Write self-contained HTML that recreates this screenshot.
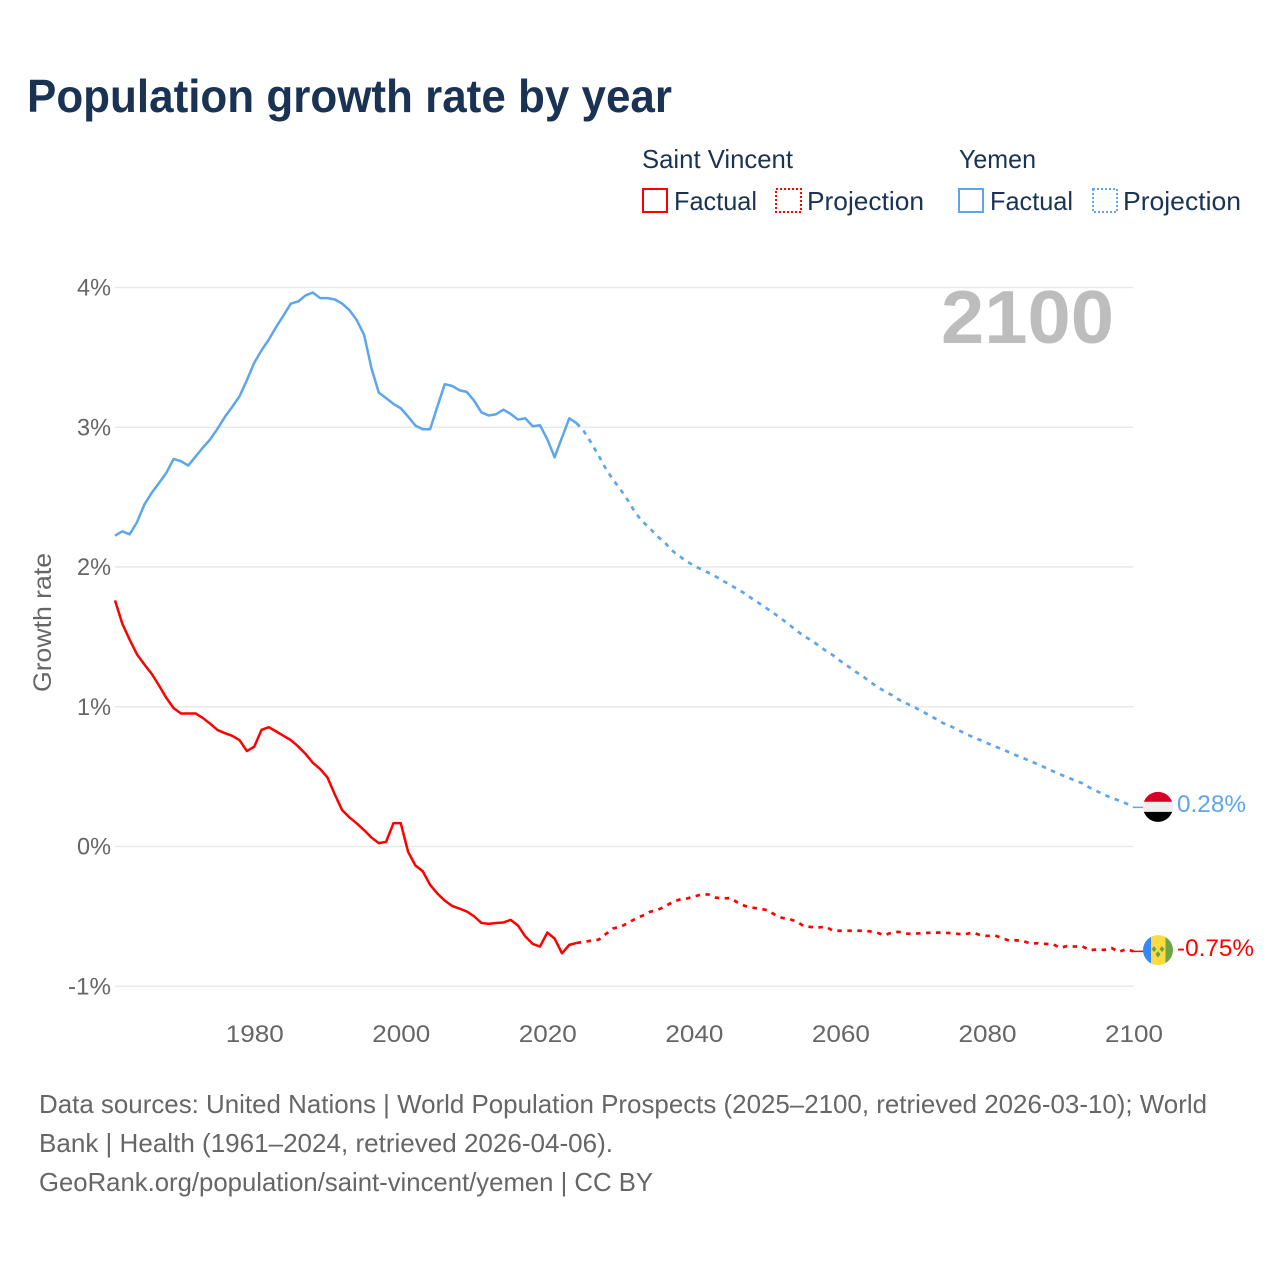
<!DOCTYPE html>
<html lang="en">
<head>
<meta charset="utf-8">
<title>Population growth rate by year</title>
<style>
html,body{margin:0;padding:0;background:#fff;width:1280px;height:1280px;overflow:hidden}
svg{display:block;font-family:"Liberation Sans",sans-serif}
</style>
</head>
<body>
<svg id="chart" xmlns="http://www.w3.org/2000/svg" width="1280" height="1280" viewBox="0 0 1280 1280">
  <defs>
    <clipPath id="flag-clip"><circle cx="0" cy="0" r="15"></circle></clipPath>
  </defs>
  <rect x="0" y="0" width="1280" height="1280" fill="#ffffff"></rect>
  <text x="27" y="112" font-size="46" font-weight="700" fill="#1a3354" textLength="645" lengthAdjust="spacingAndGlyphs">Population growth rate by year</text>

  <g font-size="26" fill="#1a3354">
    <text x="642" y="168" textLength="151" lengthAdjust="spacingAndGlyphs">Saint Vincent</text>
    <text x="959" y="168" textLength="77" lengthAdjust="spacingAndGlyphs">Yemen</text>
    <rect x="643" y="189" width="24" height="23" fill="none" stroke="#ff0000" stroke-width="2"></rect>
    <text x="674" y="210" textLength="83" lengthAdjust="spacingAndGlyphs">Factual</text>
    <rect x="776" y="189" width="25" height="23" fill="none" stroke="#ff0000" stroke-width="2" stroke-dasharray="2 2"></rect>
    <text x="807" y="210" textLength="117" lengthAdjust="spacingAndGlyphs">Projection</text>
    <rect x="959" y="189" width="24" height="23" fill="none" stroke="#5da5ec" stroke-width="2"></rect>
    <text x="990" y="210" textLength="83" lengthAdjust="spacingAndGlyphs">Factual</text>
    <rect x="1093" y="189" width="24" height="23" fill="none" stroke="#5da5ec" stroke-width="2" stroke-dasharray="2 2"></rect>
    <text x="1123" y="210" textLength="118" lengthAdjust="spacingAndGlyphs">Projection</text>
  </g>

  <g id="grid"></g>
  <g id="y-ticks" font-size="24" fill="#666666"></g>
  <g id="x-ticks" font-size="24" fill="#666666"></g>
  <text transform="translate(51,692) rotate(-90)" font-size="25" fill="#666666" textLength="139" lengthAdjust="spacingAndGlyphs">Growth rate</text>
  <text x="941" y="343" font-size="75" font-weight="700" fill="#bdbdbd" textLength="173" lengthAdjust="spacingAndGlyphs">2100</text>

  <g id="series"></g>
  <g id="end-markers"></g>

  <g font-size="26" fill="#666666">
    <text x="39" y="1113" textLength="1168" lengthAdjust="spacingAndGlyphs">Data sources: United Nations | World Population Prospects (2025–2100, retrieved 2026-03-10); World</text>
    <text x="39" y="1152" textLength="574" lengthAdjust="spacingAndGlyphs">Bank | Health (1961–2024, retrieved 2026-04-06).</text>
    <text x="39" y="1191" textLength="614" lengthAdjust="spacingAndGlyphs">GeoRank.org/population/saint-vincent/yemen | CC BY</text>
  </g>
</svg>
<script>
const factualStartYear = 1961;
const projectionStartYear = 2024;
const xTickYears = [1980, 2000, 2020, 2040, 2060, 2080, 2100];
const yTickValues = [4, 3, 2, 1, 0, -1];

const yemenFactual = [
  2.224, 2.255, 2.234, 2.32, 2.446, 2.53, 2.60, 2.673, 2.773, 2.757,
  2.726, 2.79, 2.855, 2.914, 2.99, 3.074, 3.146, 3.222, 3.337, 3.461,
  3.551, 3.628, 3.718, 3.80, 3.885, 3.90, 3.943, 3.964, 3.924, 3.924,
  3.914, 3.885, 3.838, 3.766, 3.66, 3.422, 3.248, 3.208, 3.167, 3.136,
  3.076, 3.012, 2.986, 2.986, 3.148, 3.308, 3.296, 3.265, 3.253, 3.191,
  3.107, 3.084, 3.093, 3.126, 3.095, 3.055, 3.064, 3.007, 3.014, 2.914,
  2.785, 2.926, 3.064, 3.029
];
const yemenProjection = [
  3.029, 2.971, 2.888, 2.797, 2.702, 2.623, 2.554, 2.477, 2.389, 2.325,
  2.277, 2.22, 2.177, 2.119, 2.079, 2.041, 2.01, 1.983, 1.959, 1.931,
  1.90, 1.871, 1.84, 1.809, 1.771, 1.737, 1.702, 1.666, 1.628, 1.587,
  1.547, 1.506, 1.477, 1.439, 1.401, 1.368, 1.327, 1.291, 1.253, 1.22,
  1.181, 1.143, 1.112, 1.084, 1.05, 1.024, 1.0, 0.971, 0.943, 0.914,
  0.883, 0.862, 0.835, 0.809, 0.785, 0.764, 0.74, 0.718, 0.697, 0.675,
  0.652, 0.632, 0.609, 0.587, 0.563, 0.539, 0.516, 0.494, 0.473, 0.453,
  0.422, 0.396, 0.37, 0.348, 0.329, 0.308, 0.28
];
const saintVincentFactual = [
  1.761, 1.594, 1.48, 1.375, 1.303, 1.236, 1.153, 1.064, 0.99, 0.952,
  0.952, 0.952, 0.919, 0.878, 0.833, 0.811, 0.792, 0.761, 0.683, 0.714,
  0.835, 0.854, 0.823, 0.792, 0.761, 0.716, 0.663, 0.599, 0.554, 0.494,
  0.372, 0.26, 0.208, 0.165, 0.117, 0.064, 0.024, 0.033, 0.167, 0.167,
  -0.038, -0.136, -0.177, -0.274, -0.337, -0.387, -0.425, -0.444, -0.465, -0.499,
  -0.547, -0.554, -0.547, -0.544, -0.525, -0.566, -0.644, -0.697, -0.716, -0.616,
  -0.659, -0.764, -0.704, -0.69
];
const saintVincentProjection = [
  -0.69, -0.682, -0.674, -0.667, -0.626, -0.586, -0.574, -0.548, -0.517, -0.495,
  -0.467, -0.455, -0.431, -0.40, -0.38, -0.373, -0.359, -0.343, -0.343, -0.366,
  -0.371, -0.369, -0.402, -0.426, -0.438, -0.445, -0.455, -0.486, -0.51, -0.519,
  -0.536, -0.57, -0.576, -0.579, -0.574, -0.603, -0.603, -0.603, -0.603, -0.603,
  -0.607, -0.617, -0.635, -0.616, -0.611, -0.623, -0.625, -0.62, -0.618, -0.616,
  -0.616, -0.62, -0.625, -0.628, -0.616, -0.632, -0.64, -0.635, -0.654, -0.673,
  -0.671, -0.678, -0.695, -0.692, -0.697, -0.699, -0.726, -0.711, -0.716, -0.714,
  -0.742, -0.737, -0.74, -0.726, -0.754, -0.735, -0.75
];

const NS = 'http://www.w3.org/2000/svg';
const RED = '#ff0000';
const BLUE = '#5da5ec';
const xScale = function (year) { return 115 + (year - 1961) * (1133.5 - 115) / (2100 - 1961); };
const yScale = function (pct) { return 846.5 - pct * 139.75; };
const make = function (tag, parent) {
  const el = document.createElementNS(NS, tag);
  parent.appendChild(el);
  return el;
};
const pathFrom = function (values, startYear) {
  return values.map(function (v, i) {
    return (i ? 'L' : 'M') + xScale(startYear + i).toFixed(2) + ' ' + yScale(v).toFixed(2);
  }).join(' ');
};

const gridGroup = document.getElementById('grid');
const yTickGroup = document.getElementById('y-ticks');
yTickValues.forEach(function (v) {
  const line = make('line', gridGroup);
  
  
  line.setAttribute('x1', xScale(1961));
  line.setAttribute('x2', xScale(2100));
  line.setAttribute('y1', yScale(v));
  line.setAttribute('y2', yScale(v));
  line.setAttribute('stroke', '#e9e9e9');
  line.setAttribute('stroke-width', '1.5');
  const label = make('text', yTickGroup);
  
  
  label.setAttribute('x', 111);
  label.setAttribute('y', yScale(v) + 8);
  label.setAttribute('text-anchor', 'end');
  label.setAttribute('textLength', v < 0 ? 43 : 34);
  label.setAttribute('lengthAdjust', 'spacingAndGlyphs');
  label.textContent = v + '%';
});

const xTickGroup = document.getElementById('x-ticks');
xTickYears.forEach(function (year) {
  const label = make('text', xTickGroup);
  
  
  label.setAttribute('x', xScale(year) + 0.5);
  label.setAttribute('y', 1042);
  label.setAttribute('text-anchor', 'middle');
  label.setAttribute('textLength', 58);
  label.setAttribute('lengthAdjust', 'spacingAndGlyphs');
  label.textContent = String(year);
});

const seriesGroup = document.getElementById('series');
const drawLine = function (name, values, startYear, color, dashed) {
  const p = make('path', seriesGroup);
  
  
  p.setAttribute('d', pathFrom(values, startYear));
  p.setAttribute('fill', 'none');
  p.setAttribute('stroke', color);
  p.setAttribute('stroke-width', dashed ? '2.7' : '2.5');
  p.setAttribute('stroke-linejoin', 'round');
  if (dashed) { p.setAttribute('stroke-dasharray', '4.5 5.5'); }
};
drawLine('yemen-factual-line', yemenFactual, factualStartYear, BLUE, false);
drawLine('yemen-projection-line', yemenProjection, projectionStartYear, BLUE, true);
drawLine('saint-vincent-factual-line', saintVincentFactual, factualStartYear, RED, false);
drawLine('saint-vincent-projection-line', saintVincentProjection, projectionStartYear, RED, true);

const markerGroup = document.getElementById('end-markers');
const drawConnector = function (name, value, color) {
  const c = make('line', markerGroup);
  
  
  c.setAttribute('x1', xScale(2100));
  c.setAttribute('x2', 1158);
  c.setAttribute('y1', yScale(value));
  c.setAttribute('y2', yScale(value));
  c.setAttribute('stroke', color);
  c.setAttribute('stroke-width', '1.5');
};
const drawEndLabel = function (name, value, color, width) {
  const t = make('text', markerGroup);
  
  
  t.setAttribute('x', 1177);
  t.setAttribute('y', yScale(value) + 4.5);
  t.setAttribute('font-size', '24');
  t.setAttribute('fill', color);
  t.setAttribute('textLength', width);
  t.setAttribute('lengthAdjust', 'spacingAndGlyphs');
  t.textContent = value.toFixed(2) + '%';
};
const bar = function (parent, color, x, y, w, h) {
  const r = make('rect', parent);
  r.setAttribute('x', x);
  r.setAttribute('y', y);
  r.setAttribute('width', w);
  r.setAttribute('height', h);
  r.setAttribute('fill', color);
  return r;
};

const yemenEnd = yemenProjection[yemenProjection.length - 1];
const saintVincentEnd = saintVincentProjection[saintVincentProjection.length - 1];
drawConnector('yemen-end-connector', yemenEnd, BLUE);
drawConnector('saint-vincent-end-connector', saintVincentEnd, RED);

const yemenFlag = make('g', markerGroup);


yemenFlag.setAttribute('transform', 'translate(1158,' + (yScale(yemenEnd) - 0.5) + ')');
yemenFlag.setAttribute('clip-path', 'url(#flag-clip)');
bar(yemenFlag, '#d80027', -16, -16, 32, 11);
bar(yemenFlag, '#eeeeee', -16, -5, 32, 10);
bar(yemenFlag, '#000000', -16, 5, 32, 11);

const svcFlag = make('g', markerGroup);


svcFlag.setAttribute('transform', 'translate(1158,' + (yScale(saintVincentEnd) - 1.2) + ')');
svcFlag.setAttribute('clip-path', 'url(#flag-clip)');
bar(svcFlag, '#338af3', -16, -16, 9, 32);
bar(svcFlag, '#ffda44', -7, -16, 14.5, 32);
bar(svcFlag, '#6da544', 7.5, -16, 9, 32);
const diamonds = make('path', svcFlag);
diamonds.setAttribute('d', 'M-4 -4 L-1.5 -1 L-4 2 L-6.5 -1 Z M4 -4 L6.5 -1 L4 2 L1.5 -1 Z M0 1 L2.5 4 L0 7.5 L-2.5 4 Z');
diamonds.setAttribute('fill', '#6da544');

drawEndLabel('yemen-end-value', yemenEnd, BLUE, 69);
drawEndLabel('saint-vincent-end-value', saintVincentEnd, RED, 77);
</script>
</body>
</html>
